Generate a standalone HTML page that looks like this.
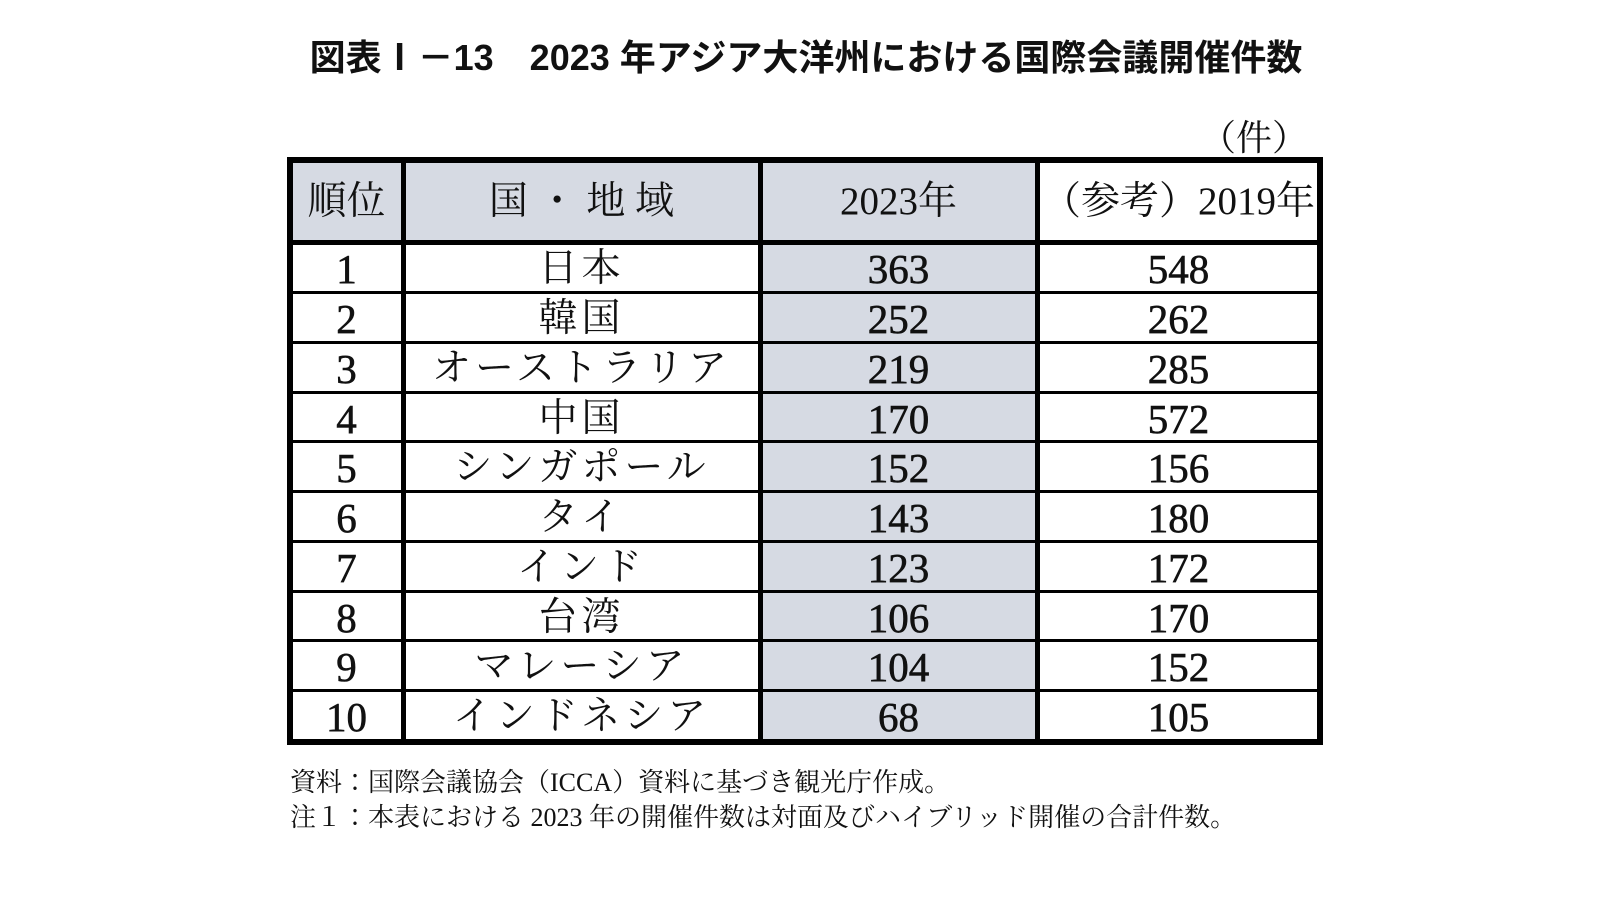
<!DOCTYPE html>
<html><head><meta charset="utf-8"><style>
body{margin:0;width:1600px;height:899px;background:#fff;position:relative;overflow:hidden;font-family:"Liberation Serif","Noto Serif CJK JP",serif;color:#111}
.a{position:absolute}
.t{position:absolute;text-align:center;font-size:39px;line-height:50px;white-space:nowrap}
.n{font-size:41px;-webkit-text-stroke:0.6px #111}
.l{position:absolute;background:#000}
</style></head><body>
<div class="a" style="left:0;width:1612px;top:34px;text-align:center;font-family:'Liberation Sans','Noto Sans CJK JP',sans-serif;font-weight:bold;font-size:36px;line-height:48px">図表Ⅰ－13　2023 年アジア大洋州における国際会議開催件数</div>
<div class="a" style="left:1200px;top:114px;font-size:36px;line-height:48px">（件）</div>
<div id="tbl"></div>
<div class="a" style="left:290px;top:766px;font-size:26px;line-height:34px">資料：国際会議協会（ICCA）資料に基づき観光庁作成。</div>
<div class="a" style="left:290px;top:801px;font-size:26px;line-height:34px">注１：本表における 2023 年の開催件数は対面及びハイブリッド開催の合計件数。</div>
<script>
const headers=["順位","国・地域","2023年","（参考）2019年"];
const countries=["日本","韓国","オーストラリア","中国","シンガポール","タイ","インド","台湾","マレーシア","インドネシア"];
const v2023=[363,252,219,170,152,143,123,106,104,68];
const v2019=[548,262,285,572,156,180,172,170,152,105];
const colX=[290,403,760,1037,1320];
const rowY=[160,242,292,342,392,441,491,541,591,640,690,742];
const T=document.getElementById('tbl');
function add(cls,style,txt){const d=document.createElement('div');d.className=cls;d.style.cssText=style;if(txt!==undefined)d.textContent=txt;T.appendChild(d);return d;}
const g='#d6dae3';
let b=add('a',`left:${colX[0]}px;top:${rowY[0]}px;width:${colX[3]-colX[0]}px;height:${rowY[1]-rowY[0]}px;background:${g}`);


b=add('a',`left:${colX[2]}px;top:${rowY[1]}px;width:${colX[3]-colX[2]}px;height:${rowY[11]-rowY[1]}px;background:${g}`);


headers.forEach((h,i)=>{
  const d=add('t',`left:${colX[i]}px;width:${colX[i+1]-colX[i]}px;top:${rowY[0]+17}px`,i==1?'国 ・ 地 域':h);
  
  
});
countries.forEach((c,r)=>{
  const y=rowY[r+1]+2;
  const vals=[String(r+1),c,String(v2023[r]),String(v2019[r])];
  vals.forEach((v,i)=>{
    const d=add(i==1?'t':'t n',`left:${colX[i]}px;width:${colX[i+1]-colX[i]}px;top:${y}px;${i==1?'letter-spacing:4px':''}`,v);
    
    
  });
});
rowY.forEach((y,i)=>{
  const w=(i==0||i==11)?6:(i==1?5:3);
  const d=add('l',`left:${colX[0]}px;top:${y-Math.floor(w/2)}px;width:${colX[4]-colX[0]}px;height:${w}px`);
  
  
});
colX.forEach((x,i)=>{
  const w=(i==0||i==4)?6:5;
  const d=add('l',`left:${x-Math.floor(w/2)}px;top:${rowY[0]-3}px;width:${w}px;height:${rowY[11]-rowY[0]+6}px`);
  
  
});
</script>
</body></html>
